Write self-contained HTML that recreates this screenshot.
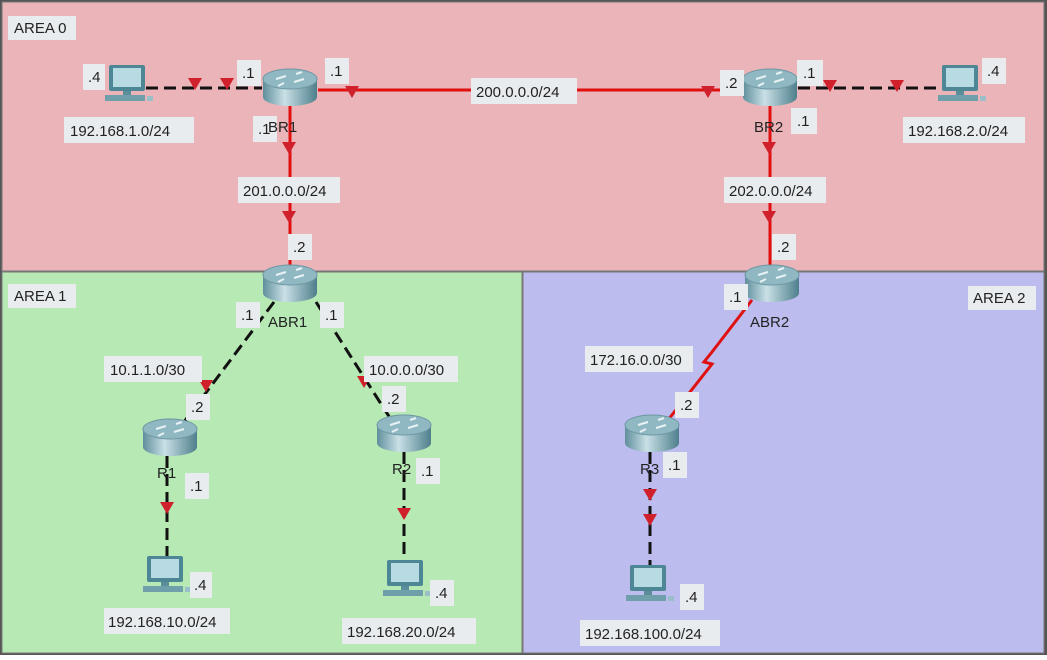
<!DOCTYPE html>
<html><head><meta charset="utf-8"><style>
body{margin:0;width:1047px;height:655px;overflow:hidden;background:#fff}
text{font-family:"Liberation Sans",sans-serif;font-size:15px;fill:#222}
</style></head><body>
<svg width="1047" height="655" viewBox="0 0 1047 655" xmlns="http://www.w3.org/2000/svg">
<defs>
<linearGradient id="rg" x1="0" x2="1" y1="0" y2="0">
<stop offset="0" stop-color="#5f8f9c"/><stop offset="0.4" stop-color="#c9e0e6"/><stop offset="1" stop-color="#4e7f8c"/></linearGradient>
<g id="router">
<rect x="-27" y="-8" width="54" height="18" fill="url(#rg)"/>
<ellipse cx="0" cy="10" rx="27" ry="9" fill="url(#rg)"/>
<ellipse cx="0" cy="-8" rx="27" ry="10" fill="#8fb8c3" stroke="#6d97a3"/>
<path d="M-14,-8 L-4,-11 M14,-8 L4,-5 M-6,-4 L-12,-1 M6,-13 L12,-15" stroke="#e8f2f4" stroke-width="2"/>
</g>
<g id="pc">
<rect x="-18" y="-20" width="36" height="26" fill="#4d8796" rx="2"/>
<rect x="-14" y="-17" width="28" height="19" fill="#b8dbe3"/>
<rect x="-4" y="6" width="8" height="4" fill="#5b8e9b"/>
<rect x="-22" y="10" width="40" height="6" fill="#6f9fab"/>
<rect x="20" y="11" width="6" height="5" fill="#9bbfc8"/>
</g>
<path id="tri" d="M-7,-6 L7,-6 L0,6 Z" fill="#d0202c"/>
</defs>
<rect x="0" y="0" width="1047" height="655" fill="#555"/>
<rect x="2" y="2" width="1042" height="269" fill="#eab4b9" stroke="#777"/>
<rect x="2" y="272" width="520" height="381" fill="#b7e9b4" stroke="#777"/>
<rect x="523" y="272" width="521" height="381" fill="#bcbdee" stroke="#777"/>

<g stroke="#e01010" stroke-width="3" fill="none">
<line x1="318" y1="90" x2="742" y2="90"/>
<line x1="290" y1="105" x2="290" y2="268"/>
<line x1="770" y1="105" x2="770" y2="268"/>
<polyline points="752,300 712,352 704,362 712,364 668,420"/>
</g>
<g stroke="#111" stroke-width="3" stroke-dasharray="12,6" fill="none">
<line x1="146" y1="88" x2="262" y2="88"/>
<line x1="798" y1="88" x2="940" y2="88"/>
<line x1="274" y1="302" x2="184" y2="422"/>
<line x1="316" y1="302" x2="390" y2="418"/>
<line x1="167" y1="456" x2="167" y2="560"/>
<line x1="404" y1="452" x2="404" y2="562"/>
<line x1="650" y1="452" x2="650" y2="566"/>
</g>
<g>
<use href="#tri" x="195" y="84"/><use href="#tri" x="227" y="84"/>
<use href="#tri" x="352" y="92"/><use href="#tri" x="708" y="92"/>
<use href="#tri" x="830" y="86"/><use href="#tri" x="897" y="86"/>
<use href="#tri" x="289" y="148"/><use href="#tri" x="289" y="217"/>
<use href="#tri" x="769" y="148"/><use href="#tri" x="769" y="217"/>
<use href="#tri" x="206" y="386"/><use href="#tri" x="364" y="382"/>
<use href="#tri" x="167" y="508"/><use href="#tri" x="404" y="514"/>
<use href="#tri" x="650" y="495"/><use href="#tri" x="650" y="520"/>
</g>
<use href="#router" x="290" y="87"/><use href="#router" x="770" y="87"/>
<use href="#router" x="290" y="283"/><use href="#router" x="772" y="283"/>
<use href="#router" x="170" y="437"/><use href="#router" x="404" y="433"/>
<use href="#router" x="652" y="433"/>
<use href="#pc" x="127" y="85"/><use href="#pc" x="960" y="85"/>
<use href="#pc" x="165" y="576"/><use href="#pc" x="405" y="580"/>
<use href="#pc" x="648" y="585"/>

<g fill="#e8ecee">
<rect x="8" y="16" width="68" height="24"/><rect x="8" y="284" width="68" height="24"/><rect x="968" y="286" width="68" height="24"/>
<rect x="64" y="117" width="130" height="26"/><rect x="903" y="117" width="122" height="26"/>
<rect x="471" y="78" width="106" height="26"/><rect x="238" y="177" width="102" height="26"/><rect x="724" y="177" width="102" height="26"/>
<rect x="104" y="356" width="98" height="26"/><rect x="364" y="356" width="94" height="26"/><rect x="585" y="346" width="108" height="26"/>
<rect x="104" y="608" width="126" height="26"/><rect x="342" y="618" width="134" height="26"/><rect x="580" y="620" width="140" height="26"/>
<rect x="83" y="64" width="22" height="26"/><rect x="237" y="60" width="24" height="26"/><rect x="325" y="58" width="24" height="26"/>
<rect x="253" y="116" width="24" height="26"/><rect x="720" y="70" width="24" height="26"/><rect x="797" y="60" width="26" height="26"/>
<rect x="791" y="108" width="26" height="26"/><rect x="982" y="58" width="24" height="26"/>
<rect x="288" y="234" width="24" height="26"/><rect x="772" y="234" width="24" height="26"/>
<rect x="236" y="302" width="24" height="26"/><rect x="320" y="302" width="24" height="26"/><rect x="724" y="284" width="24" height="26"/>
<rect x="186" y="394" width="24" height="26"/><rect x="382" y="386" width="24" height="26"/><rect x="675" y="392" width="24" height="26"/>
<rect x="185" y="473" width="24" height="26"/><rect x="416" y="458" width="24" height="26"/><rect x="663" y="452" width="24" height="26"/>
<rect x="190" y="572" width="22" height="26"/><rect x="430" y="580" width="24" height="26"/><rect x="680" y="584" width="24" height="26"/>
</g>
<text x="14" y="33">AREA 0</text><text x="14" y="301">AREA 1</text><text x="973" y="303">AREA 2</text>
<text x="70" y="136">192.168.1.0/24</text><text x="908" y="136">192.168.2.0/24</text>
<text x="476" y="97">200.0.0.0/24</text><text x="243" y="196">201.0.0.0/24</text><text x="729" y="196">202.0.0.0/24</text>
<text x="110" y="375">10.1.1.0/30</text><text x="369" y="375">10.0.0.0/30</text><text x="590" y="365">172.16.0.0/30</text>
<text x="108" y="627">192.168.10.0/24</text><text x="347" y="637">192.168.20.0/24</text><text x="585" y="639">192.168.100.0/24</text>
<text x="88" y="82">.4</text><text x="242" y="78">.1</text><text x="330" y="76">.1</text><text x="258" y="134">.1</text>
<text x="725" y="88">.2</text><text x="803" y="78">.1</text><text x="797" y="126">.1</text><text x="987" y="76">.4</text>
<text x="293" y="252">.2</text><text x="777" y="252">.2</text>
<text x="241" y="320">.1</text><text x="325" y="320">.1</text><text x="729" y="302">.1</text>
<text x="191" y="412">.2</text><text x="387" y="404">.2</text><text x="680" y="410">.2</text>
<text x="190" y="491">.1</text><text x="421" y="476">.1</text><text x="668" y="470">.1</text>
<text x="194" y="590">.4</text><text x="435" y="598">.4</text><text x="685" y="602">.4</text>
<text x="268" y="132">BR1</text><text x="754" y="132">BR2</text><text x="268" y="327">ABR1</text><text x="750" y="327">ABR2</text>
<text x="157" y="478">R1</text><text x="392" y="474">R2</text><text x="640" y="474">R3</text>
</svg>
</body></html>
